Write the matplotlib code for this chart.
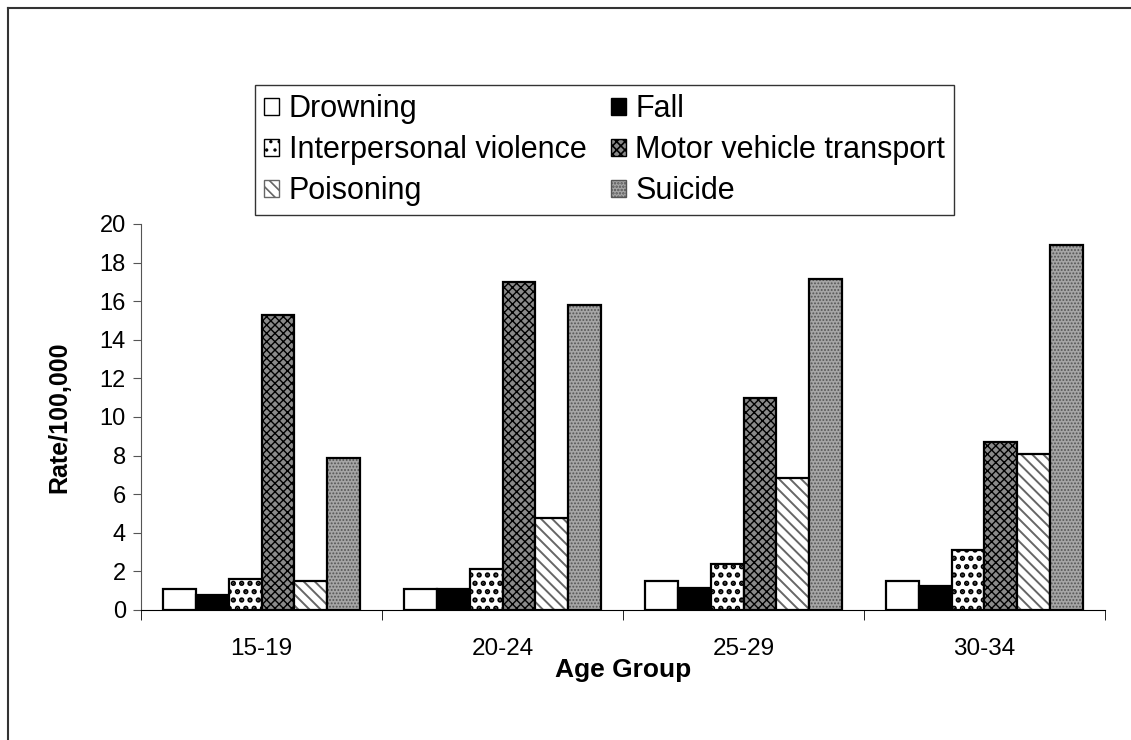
import numpy as np
import matplotlib
matplotlib.use('Agg')
import matplotlib.pyplot as plt
from matplotlib.lines import Line2D
from matplotlib.patches import Patch

plt.rcParams['font.family'] = ['Liberation Sans', 'DejaVu Sans']
plt.rcParams['hatch.linewidth'] = 1.2

# data
age_groups = ['15-19', '20-24', '25-29', '30-34']
drowning = [1.1, 1.1, 1.5, 1.5]
fall = [0.8, 1.1, 1.15, 1.25]
violence = [1.6, 2.1, 2.4, 3.1]
motor = [15.3, 17.0, 11.0, 8.7]
poisoning = [1.5, 4.75, 6.85, 8.1]
suicide = [7.85, 15.8, 17.15, 18.9]
names = ['Drowning', 'Fall', 'Interpersonal violence',
         'Motor vehicle transport', 'Poisoning', 'Suicide']

series = [drowning, fall, violence, motor, poisoning, suicide]
faces = ['white', 'black', 'white', '#8a8a8a', 'white', '#a6a6a6']
hatches = [None, None, '..', 'xxxx', '\\\\\\', '.....']
hatch_cols = ['black', 'black', 'black', 'black', '#666666', '#555555']
hatch_lw = [1.2, 1.2, 2.6, 1.0, 1.4, 0.9]

fig = plt.figure(figsize=(11.31, 7.40), dpi=100)
ax = fig.add_axes([0.1247, 0.1757, 0.977 - 0.1247, 0.6973 - 0.1757])

x = np.arange(len(age_groups))
w = 0.1356
proxies = []
for i in range(len(series)):
    pos = x + (i - 2.5) * w
    bars = ax.bar(pos, series[i], w, color=faces[i], edgecolor=hatch_cols[i],
                  linewidth=0, hatch=hatches[i])
    for b in bars:
        if hasattr(b, 'set_hatch_linewidth'):
            b.set_hatch_linewidth(hatch_lw[i])
    ax.bar(pos, series[i], w, fill=False, edgecolor='black', linewidth=1.6)
    p = Patch(facecolor=faces[i], edgecolor=hatch_cols[i], hatch=hatches[i],
              linewidth=1.0, label=names[i])
    if hasattr(p, 'set_hatch_linewidth'):
        p.set_hatch_linewidth(min(hatch_lw[i], 1.0))
    proxies.append(p)

ax.set_xlim(-0.5, 3.5)
ax.set_ylim(0, 20)
ax.set_yticks(range(0, 21, 2))
ax.set_xticks(x)
ax.set_xticklabels(age_groups)
ax.set_xticks(np.arange(-0.5, 3.6, 1), minor=True)
ax.tick_params(axis='x', which='major', length=0, pad=20, labelsize=17.5)
ax.tick_params(axis='x', which='minor', length=7, direction='out')
ax.tick_params(axis='y', length=6, labelsize=17, color='#555555', pad=5)
ax.spines['top'].set_visible(False)
ax.spines['right'].set_visible(False)
ax.spines['left'].set_color('#555555')
ax.set_xlabel('Age Group', fontsize=19, fontweight='bold', labelpad=-1)
ax.set_ylabel('Rate/100,000', fontsize=18, fontweight='bold', labelpad=20)

# legend is row-major in the picture
order = [0, 2, 4, 1, 3, 5]
leg = fig.legend([proxies[k] for k in order], [names[k] for k in order],
                 loc='upper left', bbox_to_anchor=(255 / 1131, 1 - 85 / 740),
                 ncol=2, fontsize=22, frameon=True, fancybox=False,
                 edgecolor='black', handlelength=0.5, handleheight=0.5,
                 handletextpad=0.3, columnspacing=0.8, labelspacing=0.36,
                 borderpad=0.3, borderaxespad=0)
leg.get_frame().set_linewidth(1.0)

# outer frame of the picture
fig.add_artist(Line2D([8 / 1131, 1], [1 - 8 / 740, 1 - 8 / 740],
                      transform=fig.transFigure, color='#333333', lw=1.5))
fig.add_artist(Line2D([8 / 1131, 8 / 1131], [0, 1 - 8 / 740],
                      transform=fig.transFigure, color='#333333', lw=1.5))

fig.savefig('out.png', dpi=100)
